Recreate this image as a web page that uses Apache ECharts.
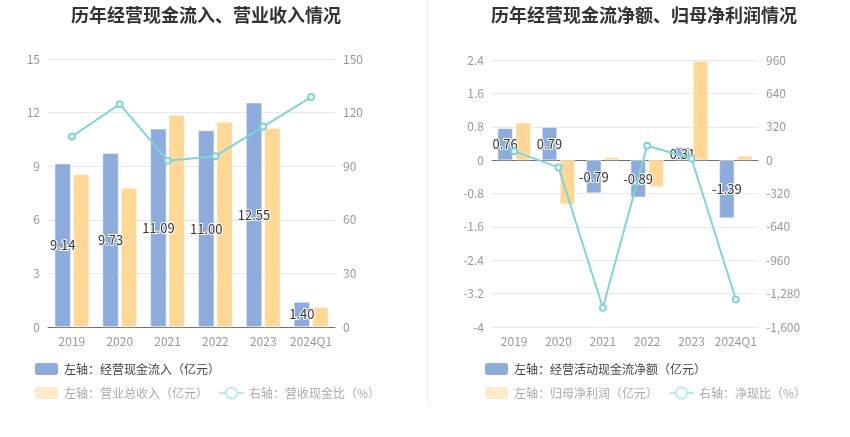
<!DOCTYPE html>
<html lang="zh">
  <head>
    <meta charset="utf-8" />
    <title>历年经营现金流情况</title>
    <script src="https://cdn.jsdelivr.net/npm/echarts@6/dist/echarts.min.js"></script>
    <style>
      * { margin: 0; padding: 0; }
      html, body { width: 100%; height: 100%; background: #fff; }
      #main { width: 850px; height: 437px; }
      #divider {
        position: absolute; left: 427px; top: 0; width: 1px; height: 405px;
        background: #f0f0f0;
      }
    </style>
  </head>
  <body>
    <div id="main"></div>
    <div id="divider"></div>
    <script>
      // categories
      var years = ["2019", "2020", "2021", "2022", "2023", "2024Q1"];

      // left chart
      var cashInflow = [9.14, 9.73, 11.09, 11.0, 12.55, 1.4];
      var revenue = [8.55, 7.78, 11.86, 11.48, 11.13, 1.1];
      var cashRevRatio = [106.6, 124.7, 93.1, 95.6, 112.2, 128.7];

      // right chart
      var netCashFlow = [0.76, 0.79, -0.79, -0.89, 0.31, -1.39];
      var netProfit = [0.9, -1.06, 0.065, -0.64, 2.37, 0.1];
      var cashProfitRatio = [86, -70, -1416, 137, 16, -1336];

      var BLUE = "#8eacdb";
      var ORANGE = "#ffd898";
      var CYAN = "#80d4d8";
      var FONT = "'Noto Sans CJK SC', 'Noto Sans', sans-serif";

      var chart = echarts.init(document.getElementById("main"));

      var axisLabel = { color: "#999", fontSize: 12, fontFamily: FONT, interval: 0 };
      var splitLine = { lineStyle: { color: "#e3e8f2" } };

      function barLabel() {
        return {
          show: true,
          position: "inside",
          color: "#333",
          fontSize: 13,
          fontFamily: FONT,
          textBorderColor: "#fff",
          textBorderWidth: 2,
          formatter: function (p) {
            return p.value.toFixed(2);
          }
        };
      }

      // one legend per row, so the wrap matches the picture
      function legendRows(names, left) {
        var base = {
          left: left, padding: 0,
          itemWidth: 25, itemHeight: 14, itemGap: 10,
          textStyle: { fontSize: 12, fontFamily: FONT }
        };
        return [
          Object.assign({}, base, {
            top: 361,
            data: [{ name: names[0], textStyle: { color: "#444" } }]
          }),
          Object.assign({}, base, {
            top: 385,
            data: [
              { name: names[1], itemStyle: { color: "#fdebcc" }, textStyle: { color: "#aaa" } },
              {
                name: names[2],
                itemStyle: { color: "#bfeaec", borderColor: "#bfeaec", borderWidth: 2 },
                lineStyle: { color: "#bfeaec", width: 2, type: "solid" },
                textStyle: { color: "#aaa" }
              }
            ]
          })
        ];
      }

      var leftNames = [
        "左轴：经营现金流入（亿元）",
        "左轴：营业总收入（亿元）",
        "右轴：营收现金比（%）"
      ];
      var rightNames = [
        "左轴：经营活动现金流净额（亿元）",
        "左轴：归母净利润（亿元）",
        "右轴：净现比（%）"
      ];

      function lineSeries(name, xi, yi, data) {
        return {
          name: name, type: "line", xAxisIndex: xi, yAxisIndex: yi,
          data: data, symbol: "emptyCircle", symbolSize: 6,
          lineStyle: { color: CYAN, width: 2 },
          itemStyle: { color: CYAN, borderWidth: 1.5 }, z: 4
        };
      }

      chart.setOption({
        animation: false,
        textStyle: { fontFamily: FONT },
        title: [
          {
            text: "历年经营现金流入、营业收入情况",
            left: 66, top: 1,
            textStyle: { fontSize: 18, fontWeight: "bold", color: "#333", fontFamily: FONT }
          },
          {
            text: "历年经营现金流净额、归母净利润情况",
            left: 486, top: 1,
            textStyle: { fontSize: 18, fontWeight: "bold", color: "#333", fontFamily: FONT }
          }
        ],
        legend: legendRows(leftNames, 33).concat(legendRows(rightNames, 483)),
        grid: [
          { left: 48, width: 287, top: 59, bottom: 110 },
          { left: 492, width: 266, top: 60, bottom: 110 }
        ],
        xAxis: [0, 1].map(function (i) {
          return {
            type: "category", gridIndex: i, data: years,
            axisLine: { onZero: true, lineStyle: { color: "#6e7079" } },
            axisTick: { alignWithLabel: true, lineStyle: { color: "#6e7079" } },
            axisLabel: axisLabel
          };
        }),
        yAxis: [
          {
            type: "value", gridIndex: 0, min: 0, max: 15, interval: 3,
            axisLabel: axisLabel, splitLine: splitLine
          },
          {
            type: "value", gridIndex: 0, min: 0, max: 150, interval: 30,
            axisLabel: axisLabel, splitLine: { show: false }
          },
          {
            type: "value", gridIndex: 1, min: -4, max: 2.4, interval: 0.8,
            axisLabel: Object.assign({}, axisLabel, {
              formatter: function (v) { return +v.toFixed(1) + ""; }
            }),
            splitLine: splitLine
          },
          {
            type: "value", gridIndex: 1, min: -1600, max: 960, interval: 320,
            axisLabel: Object.assign({}, axisLabel, {
              formatter: function (v) { return echarts.format.addCommas(v); }
            }),
            splitLine: { show: false }
          }
        ],
        series: [
          {
            name: leftNames[0], type: "bar", xAxisIndex: 0, yAxisIndex: 0,
            data: cashInflow, barWidth: 16, barGap: "15%",
            itemStyle: { color: BLUE, borderColor: "#fff", borderWidth: 0.5 },
            label: barLabel(), z: 3
          },
          {
            name: leftNames[1], type: "bar", xAxisIndex: 0, yAxisIndex: 0,
            data: revenue, barWidth: 16,
            itemStyle: { color: ORANGE, borderColor: "#fff", borderWidth: 0.5 }
          },
          lineSeries(leftNames[2], 0, 1, cashRevRatio),
          {
            name: rightNames[0], type: "bar", xAxisIndex: 1, yAxisIndex: 2,
            data: netCashFlow, barWidth: 15, barGap: "20%",
            itemStyle: { color: BLUE, borderColor: "#fff", borderWidth: 0.5 },
            label: barLabel(), z: 3
          },
          {
            name: rightNames[1], type: "bar", xAxisIndex: 1, yAxisIndex: 2,
            data: netProfit, barWidth: 15,
            itemStyle: { color: ORANGE, borderColor: "#fff", borderWidth: 0.5 }
          },
          lineSeries(rightNames[2], 1, 3, cashProfitRatio)
        ]
      });
    </script>
  </body>
</html>
